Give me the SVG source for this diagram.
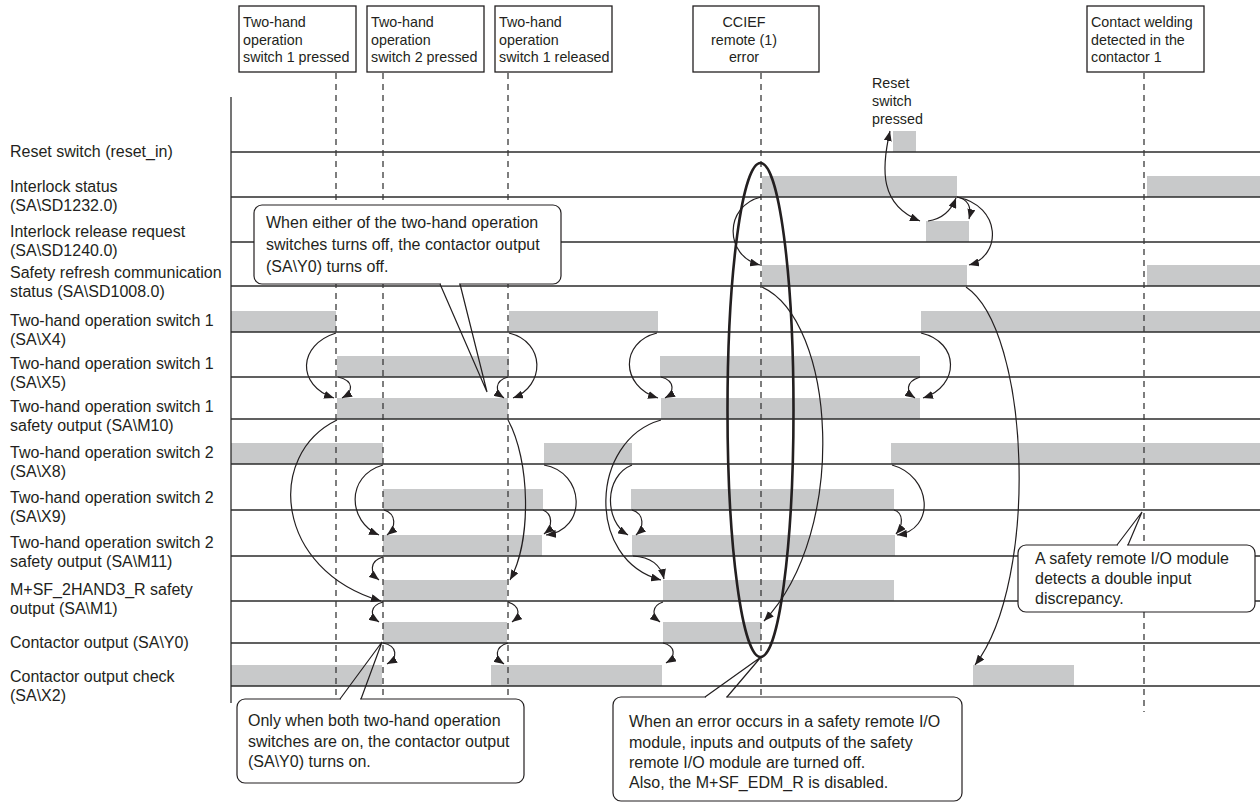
<svg xmlns="http://www.w3.org/2000/svg" width="1260" height="803" viewBox="0 0 1260 803">
<defs>
<style>
text{font-family:"Liberation Sans",Arial,Helvetica,sans-serif;fill:#231f20}
.lbl{font-size:16px}
.bt{font-size:14.3px}
.ct{font-size:16px}
.bar{fill:#c8c9ca}
.row{stroke:#2b2b2b;stroke-width:1.3}
.dash{stroke:#3a3a3a;stroke-width:1.3;stroke-dasharray:6 5}
.box{fill:#fff;stroke:#231f20;stroke-width:1.3}
.cb{fill:#fff;stroke:#231f20;stroke-width:1.2}
.tail{fill:none;stroke:#231f20;stroke-width:1.2;stroke-linejoin:miter}
.arr{fill:none;stroke:#231f20;stroke-width:1.2;marker-end:url(#ah)}
</style>
<marker id="ah" viewBox="0 0 10 8" refX="10" refY="4" markerWidth="10" markerHeight="8" markerUnits="userSpaceOnUse" orient="auto-start-reverse">
<path d="M0,0 L10,4 L0,8 Z" fill="#231f20"/>
</marker>
</defs>
<rect width="1260" height="803" fill="#fff"/>

<g id="labels">
<text class="lbl" x="10" y="157">Reset switch (reset_in)</text>
<text class="lbl" x="10" y="192">Interlock status</text>
<text class="lbl" x="10" y="211">(SA\SD1232.0)</text>
<text class="lbl" x="10" y="237">Interlock release request</text>
<text class="lbl" x="10" y="256">(SA\SD1240.0)</text>
<text class="lbl" x="10" y="278">Safety refresh communication</text>
<text class="lbl" x="10" y="297">status (SA\SD1008.0)</text>
<text class="lbl" x="10" y="326">Two-hand operation switch 1</text>
<text class="lbl" x="10" y="345">(SA\X4)</text>
<text class="lbl" x="10" y="369">Two-hand operation switch 1</text>
<text class="lbl" x="10" y="388">(SA\X5)</text>
<text class="lbl" x="10" y="412">Two-hand operation switch 1</text>
<text class="lbl" x="10" y="431">safety output (SA\M10)</text>
<text class="lbl" x="10" y="458">Two-hand operation switch 2</text>
<text class="lbl" x="10" y="477">(SA\X8)</text>
<text class="lbl" x="10" y="503">Two-hand operation switch 2</text>
<text class="lbl" x="10" y="522">(SA\X9)</text>
<text class="lbl" x="10" y="548">Two-hand operation switch 2</text>
<text class="lbl" x="10" y="567">safety output (SA\M11)</text>
<text class="lbl" x="10" y="595">M+SF_2HAND3_R safety</text>
<text class="lbl" x="10" y="614">output (SA\M1)</text>
<text class="lbl" x="10" y="648">Contactor output (SA\Y0)</text>
<text class="lbl" x="10" y="682">Contactor output check</text>
<text class="lbl" x="10" y="701">(SA\X2)</text>
</g>

<g id="bars">
<rect class="bar" x="893" y="131" width="23" height="21"/>
<rect class="bar" x="762" y="176" width="195" height="21"/>
<rect class="bar" x="1147" y="176" width="113" height="21"/>
<rect class="bar" x="926" y="221" width="43" height="21"/>
<rect class="bar" x="762" y="265" width="205" height="21"/>
<rect class="bar" x="1147" y="265" width="113" height="21"/>
<rect class="bar" x="231" y="311" width="105" height="21"/>
<rect class="bar" x="509" y="311" width="149" height="21"/>
<rect class="bar" x="921" y="311" width="339" height="21"/>
<rect class="bar" x="337" y="356" width="172" height="21"/>
<rect class="bar" x="660" y="356" width="260" height="21"/>
<rect class="bar" x="337" y="398" width="171" height="21"/>
<rect class="bar" x="661" y="398" width="259" height="21"/>
<rect class="bar" x="231" y="443" width="152" height="21"/>
<rect class="bar" x="544" y="443" width="88" height="21"/>
<rect class="bar" x="891" y="443" width="369" height="21"/>
<rect class="bar" x="383" y="489" width="160" height="21"/>
<rect class="bar" x="631" y="489" width="263" height="21"/>
<rect class="bar" x="383" y="535" width="159" height="21"/>
<rect class="bar" x="632" y="535" width="263" height="21"/>
<rect class="bar" x="383" y="580" width="124" height="21"/>
<rect class="bar" x="663" y="580" width="231" height="21"/>
<rect class="bar" x="383" y="622" width="124" height="21"/>
<rect class="bar" x="663" y="622" width="98" height="21"/>
<rect class="bar" x="231" y="665" width="151" height="21"/>
<rect class="bar" x="491" y="665" width="171" height="21"/>
<rect class="bar" x="973" y="665" width="101" height="21"/>
</g>

<g id="grid">
<line class="row" x1="231" y1="152" x2="1260" y2="152"/>
<line class="row" x1="231" y1="197" x2="1260" y2="197"/>
<line class="row" x1="231" y1="242" x2="1260" y2="242"/>
<line class="row" x1="231" y1="286" x2="1260" y2="286"/>
<line class="row" x1="231" y1="332" x2="1260" y2="332"/>
<line class="row" x1="231" y1="377" x2="1260" y2="377"/>
<line class="row" x1="231" y1="419" x2="1260" y2="419"/>
<line class="row" x1="231" y1="464" x2="1260" y2="464"/>
<line class="row" x1="231" y1="510" x2="1260" y2="510"/>
<line class="row" x1="231" y1="556" x2="1260" y2="556"/>
<line class="row" x1="231" y1="601" x2="1260" y2="601"/>
<line class="row" x1="231" y1="643" x2="1260" y2="643"/>
<line class="row" x1="231" y1="686" x2="1260" y2="686"/>
<line class="row" x1="231" y1="97" x2="231" y2="703"/>
<line class="dash" x1="336" y1="73" x2="336" y2="705"/>
<line class="dash" x1="383" y1="73" x2="383" y2="705"/>
<line class="dash" x1="508" y1="73" x2="508" y2="705"/>
<line class="dash" x1="761" y1="73" x2="761" y2="700"/>
<line class="dash" x1="1144" y1="73" x2="1144" y2="712"/>
</g>

<g id="error-ellipse">
<ellipse cx="760.5" cy="410" rx="33" ry="247" fill="none" stroke="#231f20" stroke-width="2.6"/>
</g>

<g id="connectors">
<path class="arr" d="M336,333 C298,345 296,385 334,398"/>
<path class="arr" d="M338,377 C355,381 353,392 342,398"/>
<path class="arr" d="M509,333 C546,342 545,386 513,398"/>
<path class="arr" d="M508,377 C494,381 495,392 504,398"/>
<path class="arr" d="M337,420 C265,455 275,570 381,601"/>
<path class="arr" d="M508,420 C530,460 532,540 510,580"/>
<path class="arr" d="M383,465 C345,476 348,522 379,535"/>
<path class="arr" d="M384,510 C397,514 396,528 387,535"/>
<path class="arr" d="M383,557 C369,561 370,573 379,580"/>
<path class="arr" d="M383,602 C369,606 370,616 379,622"/>
<path class="arr" d="M508,602 C521,606 520,616 512,622"/>
<path class="arr" d="M383,643 C398,646 398,658 387,664"/>
<path class="arr" d="M508,643 C494,647 495,658 504,664"/>
<path class="arr" d="M657,333 C620,342 620,386 658,398"/>
<path class="arr" d="M661,377 C676,381 674,393 665,398"/>
<path class="arr" d="M921,333 C960,342 960,386 923,398"/>
<path class="arr" d="M920,377 C905,382 906,392 915,398"/>
<path class="arr" d="M661,420 C590,440 585,560 661,580"/>
<path class="arr" d="M632,465 C604,476 604,521 628,535"/>
<path class="arr" d="M632,510 C645,514 644,528 636,535"/>
<path class="arr" d="M633,556 C650,557 661,565 664,579"/>
<path class="arr" d="M663,602 C651,606 652,616 660,622"/>
<path class="arr" d="M663,643 C676,646 676,657 666,663"/>
<path class="arr" d="M892,465 C932,476 936,530 897,535"/>
<path class="arr" d="M894,510 C904,513 903,526 896,534"/>
<path class="arr" d="M544,465 C585,472 588,530 546,535"/>
<path class="arr" d="M543,510 C553,514 553,527 544,534"/>
<path class="arr" d="M762,287 C835,320 850,530 764,621"/>
<path class="arr" d="M761,197 C724,206 724,256 760,265"/>
<path class="arr" style="marker-start:url(#ah)" d="M890,131 C881,170 880,205 920,221"/>
<path class="arr" d="M928,221 C942,219 951,211 956,198"/>
<path class="arr" d="M957,197 C968,199 972,207 969,219"/>
<path class="arr" d="M957,197 C1002,206 1002,256 969,265"/>
<path class="arr" d="M966,287 C1030,330 1040,580 975,665"/>
</g>

<g id="box-sw1-pressed">
<rect class="box" x="239" y="6" width="117" height="66"/>
<text class="bt" x="243" y="27">Two-hand</text>
<text class="bt" x="243" y="44.5">operation</text>
<text class="bt" x="243" y="62">switch 1 pressed</text>
</g>
<g id="box-sw2-pressed">
<rect class="box" x="367" y="6" width="117" height="66"/>
<text class="bt" x="371" y="27">Two-hand</text>
<text class="bt" x="371" y="44.5">operation</text>
<text class="bt" x="371" y="62">switch 2 pressed</text>
</g>
<g id="box-sw1-released">
<rect class="box" x="495" y="6" width="117" height="66"/>
<text class="bt" x="499" y="27">Two-hand</text>
<text class="bt" x="499" y="44.5">operation</text>
<text class="bt" x="499" y="62">switch 1 released</text>
</g>
<g id="box-ccief-error">
<rect class="box" x="693" y="6" width="126" height="66"/>
<text class="bt" x="744" y="27" text-anchor="middle">CCIEF</text>
<text class="bt" x="744" y="44.5" text-anchor="middle">remote (1)</text>
<text class="bt" x="744" y="62" text-anchor="middle">error</text>
</g>
<g id="box-welding">
<rect class="box" x="1087" y="6" width="117" height="66"/>
<text class="bt" x="1091" y="27">Contact welding</text>
<text class="bt" x="1091" y="44.5">detected in the</text>
<text class="bt" x="1091" y="62">contactor 1</text>
</g>
<g id="note-reset">
<text class="bt" x="872" y="88">Reset</text>
<text class="bt" x="872" y="106">switch</text>
<text class="bt" x="872" y="124">pressed</text>
</g>

<g id="callout-off">
<rect class="cb" x="254" y="205" width="307" height="79" rx="8"/>
<line x1="441" y1="284" x2="459" y2="284" stroke="#fff" stroke-width="2.5"/>
<polyline class="tail" points="440,284 487,392 460,284"/>
<text class="ct" x="266" y="228">When either of the two-hand operation</text>
<text class="ct" x="266" y="250">switches turns off, the contactor output</text>
<text class="ct" x="266" y="272">(SA\Y0) turns off.</text>
</g>
<g id="callout-on">
<rect class="cb" x="237" y="699" width="287" height="84" rx="8"/>
<line x1="341" y1="699" x2="360" y2="699" stroke="#fff" stroke-width="2.5"/>
<polyline class="tail" points="340,699 382,642 361,699"/>
<text class="ct" x="248" y="726">Only when both two-hand operation</text>
<text class="ct" x="248" y="747">switches are on, the contactor output</text>
<text class="ct" x="248" y="767">(SA\Y0) turns on.</text>
</g>
<g id="callout-error">
<rect class="cb" x="613" y="697" width="349" height="104" rx="8"/>
<line x1="706" y1="697" x2="726" y2="697" stroke="#fff" stroke-width="2.5"/>
<polyline class="tail" points="705,697 761,657 727,697"/>
<text class="ct" x="629" y="727">When an error occurs in a safety remote I/O</text>
<text class="ct" x="629" y="748">module, inputs and outputs of the safety</text>
<text class="ct" x="629" y="768">remote I/O module are turned off.</text>
<text class="ct" x="629" y="788">Also, the M+SF_EDM_R is disabled.</text>
</g>
<g id="callout-discrepancy">
<rect class="cb" x="1018" y="545" width="237" height="67" rx="8"/>
<line x1="1118" y1="545" x2="1127" y2="545" stroke="#fff" stroke-width="2.5"/>
<polyline class="tail" points="1117,545 1142,512 1128,545"/>
<text class="ct" x="1035" y="564">A safety remote I/O module</text>
<text class="ct" x="1035" y="584">detects a double input</text>
<text class="ct" x="1035" y="604">discrepancy.</text>
</g>
</svg>
